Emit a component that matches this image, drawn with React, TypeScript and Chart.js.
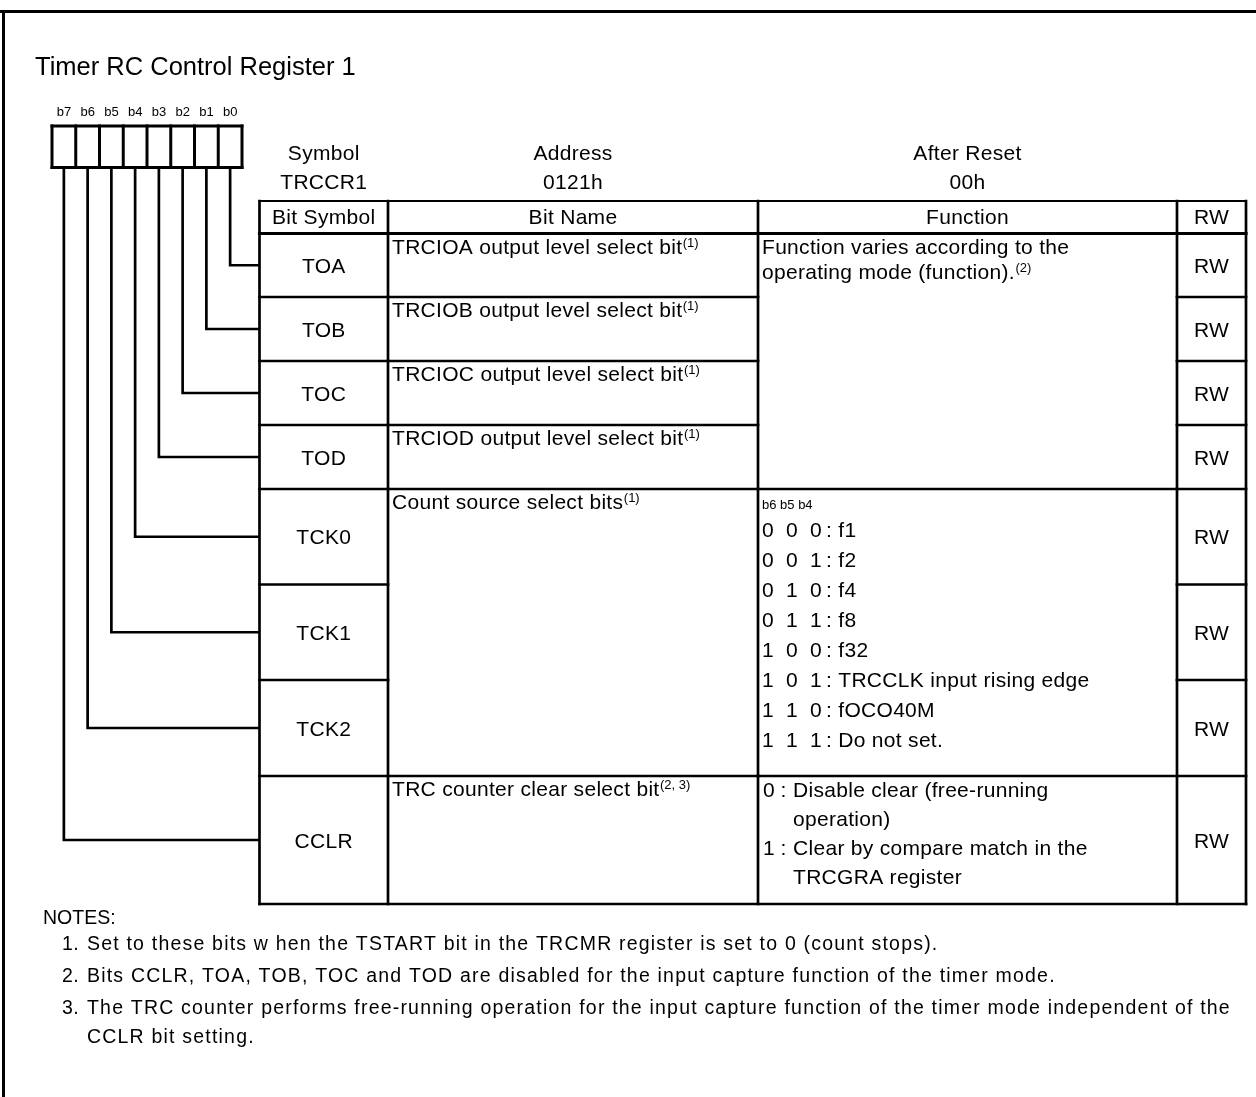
import React, { useEffect, useRef } from 'react';
import { Chart, registerables } from 'chart.js';

Chart.register(...registerables);

// ---------- data ----------
const title = 'Timer RC Control Register 1';
const bitLabels = ['b7', 'b6', 'b5', 'b4', 'b3', 'b2', 'b1', 'b0'];
const headerLabels = ['Symbol', 'Address', 'After Reset'];
const headerValues = ['TRCCR1', '0121h', '00h'];
const columnTitles = ['Bit Symbol', 'Bit Name', 'Function', 'RW'];
const bitSymbols = ['TOA', 'TOB', 'TOC', 'TOD', 'TCK0', 'TCK1', 'TCK2', 'CCLR'];
const bitOfRow = [0, 1, 2, 3, 4, 5, 6, 7];
const rwValues = ['RW', 'RW', 'RW', 'RW', 'RW', 'RW', 'RW', 'RW'];
const bitNameGroups = [
  { text: 'TRCIOA output level select bit', sup: '(1)', rows: 1 },
  { text: 'TRCIOB output level select bit', sup: '(1)', rows: 1 },
  { text: 'TRCIOC output level select bit', sup: '(1)', rows: 1 },
  { text: 'TRCIOD output level select bit', sup: '(1)', rows: 1 },
  { text: 'Count source select bits', sup: '(1)', rows: 3 },
  { text: 'TRC counter clear select bit', sup: '(2, 3)', rows: 1 },
];
const functionGroupRows = [4, 3, 1];
const modeFunctionLines = ['Function varies according to the', 'operating mode (function).'];
const modeFunctionSup = '(2)';
const countSourceHeader = 'b6 b5 b4';
const countSourceCodes = ['000', '001', '010', '011', '100', '101', '110', '111'];
const countSourceValues = ['f1', 'f2', 'f4', 'f8', 'f32', 'TRCCLK input rising edge', 'fOCO40M', 'Do not set.'];
const clearCodes = ['0', '1'];
const clearTexts = [
  ['Disable clear (free-running', 'operation)'],
  ['Clear by compare match in the', 'TRCGRA register'],
];
const notesTitle = 'NOTES:';
const notes = [
  ['Set to these bits w hen the TSTART bit in the TRCMR register is set to 0 (count stops).'],
  ['Bits CCLR, TOA, TOB, TOC and TOD are disabled for the input capture function of the timer mode.'],
  ['The TRC counter performs free-running operation for the input capture function of the timer mode independent of the', 'CCLR bit setting.'],
];

// ---------- layout (diagram units on the chart scales) ----------
const W = 1256;
const H = 1097;
const FONT = '"Liberation Sans", Arial, Helvetica, sans-serif';
const FRAME = { x: 3.5, y: 11.5, lw: 3 };
const TITLE_POS = { x: 35, y: 75, size: 25.5 };
const BOX = { left: 52, right: 242, top: 126, bottom: 167.5, labelY: 116, labelSize: 13 };
const COLS = [259.5, 388, 758, 1177, 1246];
const HEADER_TOP = 201;
const ROWS = [233.5, 297, 361, 425, 489, 584.5, 680, 776, 904];
const HEAD_Y = [160, 189];
const LW = 2.7;
const TEXT = 21;
const TEXT_SPACING = 0.3;
const SUP = 13;
const NOTE = 19.5;
const NOTE_SPACING = 1.2;

export default function App() {
  const ref = useRef<HTMLCanvasElement>(null);

  useEffect(() => {
    document.body.style.margin = '0';
    const canvas = ref.current;
    if (!canvas) return;
    const cell = (BOX.right - BOX.left) / bitLabels.length;

    const leads = bitSymbols.map((sym, i) => {
      const bit = bitOfRow[i];
      const cx = BOX.left + (bitLabels.length - 1 - bit + 0.5) * cell;
      const cy = (ROWS[i] + ROWS[i + 1]) / 2;
      return {
        label: sym,
        data: [
          { x: cx, y: BOX.bottom },
          { x: cx, y: cy },
          { x: COLS[0], y: cy },
        ],
        borderColor: '#000',
        borderWidth: LW,
        pointRadius: 0,
        fill: false,
        tension: 0,
        borderJoinStyle: 'miter' as const,
      };
    });

    const diagram = {
      id: 'diagram',
      afterDatasetsDraw(chart: any) {
        const ctx: CanvasRenderingContext2D = chart.ctx;
        const xs = chart.scales.x;
        const ys = chart.scales.y;
        const X = (v: number) => xs.getPixelForValue(v);
        const Y = (v: number) => ys.getPixelForValue(v);
        ctx.save();
        ctx.strokeStyle = '#000';
        ctx.fillStyle = '#000';
        ctx.lineCap = 'square';
        const setSpacing = (px: number) => {
          (ctx as any).letterSpacing = `${px}px`;
        };

        const line = (x1: number, y1: number, x2: number, y2: number, w = LW) => {
          ctx.lineWidth = w;
          ctx.beginPath();
          ctx.moveTo(X(x1), Y(y1));
          ctx.lineTo(X(x2), Y(y2));
          ctx.stroke();
        };
        const text = (s: string, x: number, y: number, size: number, align: CanvasTextAlign = 'left', spacing = 0) => {
          setSpacing(spacing);
          ctx.font = `${size}px ${FONT}`;
          ctx.textAlign = align;
          ctx.textBaseline = 'alphabetic';
          ctx.fillText(s, X(x), Y(y));
          setSpacing(0);
        };
        const textSup = (s: string, sup: string, x: number, y: number) => {
          setSpacing(TEXT_SPACING);
          ctx.font = `${TEXT}px ${FONT}`;
          ctx.textAlign = 'left';
          ctx.textBaseline = 'alphabetic';
          ctx.fillText(s, X(x), Y(y));
          const w = ctx.measureText(s).width;
          setSpacing(0);
          ctx.font = `${SUP}px ${FONT}`;
          ctx.fillText(sup, X(x) + w + 0.5, Y(y) - 7);
        };
        const mid = (a: number, b: number) => (a + b) / 2;

        // outer frame
        line(0, FRAME.y, W, FRAME.y, FRAME.lw);
        line(FRAME.x, FRAME.y, FRAME.x, H, FRAME.lw);

        // title
        text(title, TITLE_POS.x, TITLE_POS.y, TITLE_POS.size);

        // bit box
        const cell = (BOX.right - BOX.left) / bitLabels.length;
        line(BOX.left, BOX.top, BOX.right, BOX.top, 3);
        line(BOX.left, BOX.bottom, BOX.right, BOX.bottom, 3);
        for (let i = 0; i <= bitLabels.length; i++) {
          line(BOX.left + i * cell, BOX.top, BOX.left + i * cell, BOX.bottom, 3);
        }
        bitLabels.forEach((b, i) => text(b, BOX.left + (i + 0.5) * cell, BOX.labelY, BOX.labelSize, 'center'));

        // register header
        headerLabels.forEach((h, i) => {
          const cx = mid(COLS[i], COLS[i + 1]);
          text(h, cx, HEAD_Y[0], TEXT, 'center', TEXT_SPACING);
          text(headerValues[i], cx, HEAD_Y[1], TEXT, 'center', TEXT_SPACING);
        });

        // table grid
        const top = HEADER_TOP;
        const bottom = ROWS[ROWS.length - 1];
        line(COLS[0], top, COLS[4], top, 2);
        line(COLS[0], ROWS[0], COLS[4], ROWS[0], 3.2);
        line(COLS[0], bottom, COLS[4], bottom, LW);
        COLS.forEach((c) => line(c, top, c, bottom, LW));
        for (let r = 1; r < ROWS.length - 1; r++) {
          line(COLS[0], ROWS[r], COLS[1], ROWS[r]);
          line(COLS[3], ROWS[r], COLS[4], ROWS[r]);
        }
        let acc = 0;
        bitNameGroups.forEach((g, gi) => {
          acc += g.rows;
          if (gi < bitNameGroups.length - 1) line(COLS[1], ROWS[acc], COLS[2], ROWS[acc]);
        });
        acc = 0;
        functionGroupRows.forEach((n, gi) => {
          acc += n;
          if (gi < functionGroupRows.length - 1) line(COLS[2], ROWS[acc], COLS[3], ROWS[acc]);
        });

        // column titles
        columnTitles.forEach((t, i) => text(t, mid(COLS[i], COLS[i + 1]), ROWS[0] - 9.5, TEXT, 'center', TEXT_SPACING));

        // bit symbols and RW
        bitSymbols.forEach((s, i) => {
          const cy = mid(ROWS[i], ROWS[i + 1]) + 7.5;
          text(s, mid(COLS[0], COLS[1]), cy, TEXT, 'center', TEXT_SPACING);
          text(rwValues[i], mid(COLS[3], COLS[4]), cy, TEXT, 'center', TEXT_SPACING);
        });

        // bit names
        acc = 0;
        bitNameGroups.forEach((g) => {
          textSup(g.text, g.sup, COLS[1] + 4, ROWS[acc] + 20);
          acc += g.rows;
        });

        // function column, group 1
        const fx = COLS[2] + 4;
        text(modeFunctionLines[0], fx, ROWS[0] + 20, TEXT, 'left', TEXT_SPACING);
        textSup(modeFunctionLines[1], modeFunctionSup, fx, ROWS[0] + 45);

        // count source list
        text(countSourceHeader, fx, ROWS[4] + 20, SUP);
        countSourceCodes.forEach((code, i) => {
          const y = ROWS[4] + 48 + i * 30;
          code.split('').forEach((d, k) => text(d, fx + k * 24, y, TEXT));
          text(': ' + countSourceValues[i], fx + 64, y, TEXT, 'left', TEXT_SPACING);
        });

        // clear select
        let ln = 0;
        clearCodes.forEach((c, i) => {
          clearTexts[i].forEach((t, j) => {
            const y = ROWS[7] + 21 + ln * 29;
            if (j === 0) text(c + ' :', fx + 1, y, TEXT);
            text(t, fx + 31, y, TEXT, 'left', TEXT_SPACING);
            ln++;
          });
        });

        // notes
        text(notesTitle, 43, 924, NOTE);
        let ny = 950;
        notes.forEach((n, i) => {
          text(`${i + 1}.`, 62, ny, NOTE, 'left', 0.5);
          n.forEach((t, j) => {
            text(t, 87, ny, NOTE, 'left', NOTE_SPACING);
            ny += j < n.length - 1 ? 29 : 32;
          });
        });

        ctx.restore();
      },
    };

    const chart = new Chart(canvas, {
      type: 'line',
      data: { datasets: leads as any },
      options: {
        animation: false,
        responsive: false,
        devicePixelRatio: 1,
        events: [],
        layout: { padding: 0 },
        plugins: { legend: { display: false }, tooltip: { enabled: false } },
        scales: {
          x: { type: 'linear', min: 0, max: W, display: false },
          y: { type: 'linear', min: 0, max: H, reverse: true, display: false },
        },
      },
      plugins: [diagram],
    });
    return () => chart.destroy();
  }, []);

  return (
    <div style={{ width: W, height: H, background: '#fff' }}>
      <canvas ref={ref} width={W} height={H} style={{ display: 'block' }} />
    </div>
  );
}
